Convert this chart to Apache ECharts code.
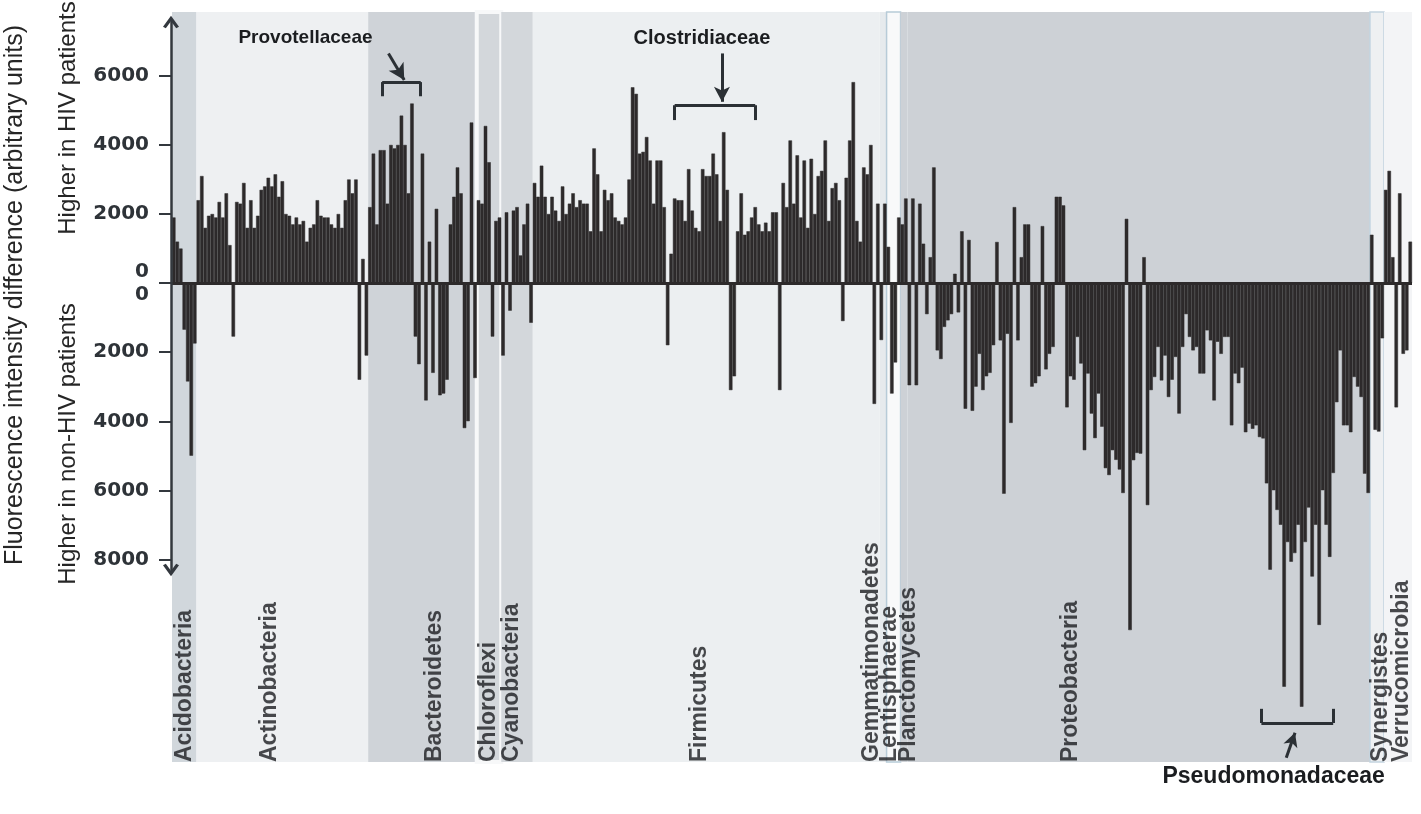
<!DOCTYPE html>
<html>
<head>
<meta charset="utf-8">
<script src="https://cdn.jsdelivr.net/npm/echarts@6/dist/echarts.min.js"></script>
<style>
html,body{margin:0;padding:0;background:#ffffff;}
#c{width:1421px;height:814px;}
</style>
</head>
<body>
<div id="c"></div>
<script>
// ---------------- DATA ----------------
const phyla = ['Acidobacteria', 'Actinobacteria', 'Bacteroidetes', 'Chloroflexi', 'Cyanobacteria',
  'Firmicutes', 'Gemmatimonadetes', 'Lentisphaerae', 'Planctomycetes', 'Proteobacteria',
  'Synergistes', 'Verrucomicrobia'];

const acidobacteria = [1900, 1200, 1000, -1350, -2850, -5000, -1750];
const actinobacteria = [2400, 3100, 1600, 1950, 2000, 1900, 2350, 1900, 2600, 1100, -1550, 2350, 2300, 2900,
  1600, 2400, 1600, 1950, 2700, 2800, 3050, 2800, 3150, 2500, 2950, 2000, 1950, 1700, 1900, 1700, 1800, 1200,
  1600, 1700, 2400, 1950, 1900, 1900, 1700, 1600, 2000, 1600, 2400, 3000, 2600, 3000, -2800, 700, -2100];
const bacteroidetes = [2200, 3750, 1700, 3850, 3850, 2300, 4000, 3900, 4000, 4850, 4000, 2600, 5200, -1550,
  -2350, 3750, -3400, 1200, -2600, 2150, -3250, -3200, -2800, 1700, 2500, 3350, 2600, -4200, -4000, 4650, -2750];
const chloroflexi = [2400, 2300, 4550, 3500, -1550, 1800, 1900];
const cyanobacteria = [-2100, 2050, -800, 2100, 2200, 800, 1700, 2300, -1150];
const firmicutes = [2900, 2500, 3400, 2500, 2000, 2500, 2100, 1800, 2800, 2000, 2300, 2600, 2200,
  2400, 2300, 2300, 1500, 3900, 3150, 1500, 2700, 2400, 2600, 1900, 1800, 1700, 1900, 3000, 5670, 5480, 3750,
  3800, 4230, 3550, 2300, 3550, 3550, 2200, -1800, 850, 2450, 2400, 2400, 1800, 3300, 2100, 1600, 1500, 3300,
  3100, 3100, 3750, 3150, 1800, 4370, 2700, -3100, -2700, 1500, 2600, 1400, 1500, 1900, 2200, 1700, 1500,
  1750, 1500, 2050, 2050, -3100,
  2900, 2200, 4130, 2300, 3700, 1900, 3550, 1600, 3600, 2000, 3100, 3250, 4130, 1800, 2750, 2900, 2400,
  -1100, 3050, 4130, 5820, 1800, 1200, 3350, 3150, 4000, -3500, 2300];
const gemmatimonadetes = [-1650, 2300];
const lentisphaerae = [1050, -3200, -2300, 1900];
const planctomycetes = [1700, 2450];
const proteobacteria = [
  -2960, 2450, -2960, 2300, 1140, -900, 750, 3350, -1950, -2200, -1270, -1080, -900, 270, -850, 1500,
  -3640, 1250, -3700, -3000, -2050, -3100,
  -2700, -2600, -1800, 1190, -1660, -6100, -1470, -4050, 2200, -1660, 750, 1700, 1700, -3000, -2900, -2700,
  1650, -2500, -2050, -1850, 2500, 2500, 2250,
  -3600, -2700, -2800, -1560, -2330, -4840, -2620, -3780, -4490, -3200, -4160, -5360, -5560, -4840, -5120,
  -5400, -6080, 1860,
  -10050, -5130, -4920, -4940, 750, -6430,
  -3100, -2720, -1850, -2820, -2100, -3300, -2800, -2140, -3780, -1850, -900, -1560, -1950, -1850, -2620,
  -2620, -1370, -1660, -3400, -1700, -2050, -1560, -1560, -4120, -2620, -2900, -2450, -4320, -4070, -4220,
  -4120, -4460, -4500,
  -5800, -8300, -6000, -6570, -7000, -11690, -7500, -8070, -7820, -7000, -12270, -7500, -6500, -8500, -7000,
  -9900, -6000, -7000, -7930, -5500, -3450, -1950, -4120, -4120, -4320, -2720, -3000, -3300, -5520, -6080];
const synergistes = [1400, -4250, -4300, -1600];
const verrucomicrobia = [2700, 3250, 750, -3600, 2600, -2050, -1950, 1200];

const yTickValues = [-8000, -6000, -4000, -2000, 0, 2000, 4000, 6000];

// family annotations: bar-index span of each bracket
const familyNames = ['Provotellaceae', 'Clostridiaceae', 'Pseudomonadaceae'];
const provotellaceaeSpan = [60, 71];
const clostridiaceaeSpan = [143.5, 166.5];
const pseudomonadaceaeSpan = [311, 331.5];

// ---------------- BUILD ----------------
const groups = [acidobacteria, actinobacteria, bacteroidetes, chloroflexi, cyanobacteria, firmicutes,
  gemmatimonadetes, lentisphaerae, planctomycetes, proteobacteria, synergistes, verrucomicrobia];
const values = [].concat(...groups);
const N = values.length;
const starts = [];
let acc = 0;
groups.forEach(g => { starts.push(acc); acc += g.length; });

const bandColors = ['#d1d7dc', '#eef0f2', '#cfd3d8', '#d3d7db', '#d3d7db', '#eceff1',
  '#e6eaed', '#f8f9fa', '#cdd1d6', '#cdd1d6', '#eef0f2', '#f3f4f6'];
const bandBorders = [null, null, null, ['#f7f8f9', 4], null, null,
  null, ['#b7cbd8', 1.5], null, null, ['#c3d4e0', 1.5], null];
const labelShift = [0.2, -3.5, 3.6, 0, -1.4, -1.8, -3.2, -1.1, 1.4, -19.4, 1.1, 1.1];

const Y_MIN = -13870, Y_MAX = 7850;
const INK = '#2d2a2b';
const TXT = '#1b1d20';

const bandAreas = phyla.map((p, i) => {
  const st = { color: bandColors[i] };
  if (bandBorders[i]) { st.borderColor = bandBorders[i][0]; st.borderWidth = bandBorders[i][1]; }
  return [{ xAxis: starts[i], itemStyle: st }, { xAxis: starts[i] + groups[i].length }];
});
const labelPoints = phyla.map((p, i) => ({
  name: p,
  value: [starts[i] + groups[i].length / 2 + labelShift[i], Y_MIN]
}));

function bracket(span, yBase, yLeg) {
  const s = { symbol: 'none' };
  return [
    [{ coord: [span[0], yLeg], ...s }, { coord: [span[0], yBase], ...s }],
    [{ coord: [span[0], yBase], ...s }, { coord: [span[1], yBase], ...s }],
    [{ coord: [span[1], yBase], ...s }, { coord: [span[1], yLeg], ...s }]
  ];
}
function arrow(from, to, size) {
  return [{ coord: from, symbol: 'none' }, { coord: to, symbol: 'arrow', symbolSize: size }];
}
const clostMid = (clostridiaceaeSpan[0] + clostridiaceaeSpan[1]) / 2 + 2;
const annotationLines = [].concat(
  bracket(provotellaceaeSpan, 5820, 5410),
  bracket(clostridiaceaeSpan, 5150, 4720),
  bracket(pseudomonadaceaeSpan, -12740, -12330),
  [arrow([61.8, 6650], [66.3, 5880], [13, 16]),
   arrow([clostMid, 6650], [clostMid, 5250], [12, 15]),
   arrow([318.1, -13750], [320.6, -13020], [11, 14])]
);
const annotationTexts = [
  { name: familyNames[0], coord: [38.1, 7090], label: { fontSize: 19 } },
  { name: familyNames[1], coord: [151.3, 7090], label: { fontSize: 20 } },
  { name: familyNames[2], coord: [314.5, Y_MIN], label: { fontSize: 23, offset: [0, 15] } }
];

const chevron = 'path://M0,11 L8,0 L16,11 L13.2,12.6 L8,5.5 L2.8,12.6 Z';

const option = {
  animation: false,
  backgroundColor: '#ffffff',
  grid: [
    { left: 172, right: 9, top: 12, bottom: 52 },
    { left: 172, right: 9, top: 22, bottom: 244 }
  ],
  xAxis: [
    { type: 'category', gridIndex: 0, data: values.map((v, i) => i), show: false, boundaryGap: true },
    { type: 'value', gridIndex: 0, min: 0, max: N, show: false },
    { type: 'value', gridIndex: 1, min: 0, max: 1, show: false }
  ],
  yAxis: [
    { type: 'value', gridIndex: 0, min: Y_MIN, max: Y_MAX, show: false },
    {
      type: 'value', gridIndex: 1, min: -8300, max: 7550, offset: 1, z: 10,
      axisLine: { show: true, onZero: false, symbol: [chevron, chevron], symbolSize: [16, 13],
        lineStyle: { color: '#33383e', width: 2.5 } },
      axisTick: { show: true, length: 12, customValues: yTickValues,
        lineStyle: { color: '#33383e', width: 2 } },
      axisLabel: {
        show: true, customValues: yTickValues, margin: 22,
        fontFamily: 'DejaVu Sans', fontWeight: 'bold', fontSize: 20, color: '#2e3338', lineHeight: 23,
        formatter: v => (v === 0 ? '0\n0' : String(Math.abs(v)))
      },
      splitLine: { show: false }
    }
  ],
  graphic: [
    { type: 'text', x: 15, y: 295, rotation: Math.PI / 2,
      style: { text: 'Fluorescence intensity difference (arbitrary units)', fontSize: 25,
        fontFamily: 'Liberation Sans', fill: '#262626', align: 'center', verticalAlign: 'middle' } },
    { type: 'text', x: 68, y: 118, rotation: Math.PI / 2,
      style: { text: 'Higher in HIV patients', fontSize: 24,
        fontFamily: 'Liberation Sans', fill: '#262626', align: 'center', verticalAlign: 'middle' } },
    { type: 'text', x: 68, y: 444, rotation: Math.PI / 2,
      style: { text: 'Higher in non-HIV patients', fontSize: 24,
        fontFamily: 'Liberation Sans', fill: '#262626', align: 'center', verticalAlign: 'middle' } }
  ],
  series: [
    {
      type: 'scatter', xAxisIndex: 1, yAxisIndex: 0, z: 1, clip: false,
      symbolSize: 0, data: labelPoints, silent: true,
      label: {
        show: true, position: 'inside', rotate: 90, align: 'left', verticalAlign: 'middle',
        formatter: p => p.name, fontFamily: 'Liberation Sans', fontWeight: 'bold', fontSize: 23, color: TXT
      },
      markArea: { silent: true, data: bandAreas },
      markLine: {
        silent: true, symbol: ['none', 'none'], label: { show: false },
        lineStyle: { color: '#2b3035', width: 3, type: 'solid' },
        data: annotationLines
      },
      markPoint: {
        silent: true, symbol: 'circle', symbolSize: 0,
        label: { show: true, position: 'inside', formatter: p => p.name, fontFamily: 'Liberation Sans',
          fontWeight: 'bold', color: TXT },
        data: annotationTexts
      }
    },
    {
      type: 'bar', xAxisIndex: 0, yAxisIndex: 0, z: 3, data: values,
      barCategoryGap: '0%', silent: true,
      itemStyle: { color: INK, borderColor: INK, borderWidth: 0.5 },
      markLine: { silent: true, symbol: ['none', 'none'], label: { show: false },
        lineStyle: { color: INK, width: 3, type: 'solid' }, data: [{ yAxis: 0 }] }
    }
  ]
};

const chart = echarts.init(document.getElementById('c'));
chart.setOption(option);
</script>
</body>
</html>
